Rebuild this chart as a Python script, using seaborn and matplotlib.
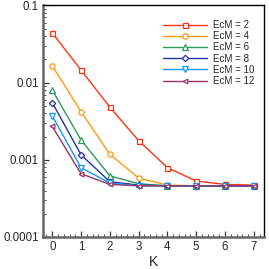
import numpy as np
import pandas as pd
import matplotlib
matplotlib.use("Agg")
import matplotlib.pyplot as plt
import seaborn as sns
from matplotlib.ticker import LogLocator, FixedLocator, MultipleLocator

k = [0, 1, 2, 3, 4, 5, 6, 7]
ecm_labels = ["EcM = 2", "EcM = 4", "EcM = 6", "EcM = 8", "EcM = 10", "EcM = 12"]
ecm2 = [0.044, 0.0145, 0.0048, 0.00177, 0.00079, 0.00053, 0.00048, 0.00047]
ecm4 = [0.0165, 0.0042, 0.00118, 0.00058, 0.00047, 0.00046, 0.00046, 0.00046]
ecm6 = [0.0080, 0.0018, 0.00062, 0.00049, 0.00046, 0.00046, 0.00046, 0.00046]
ecm8 = [0.0055, 0.00116, 0.00052, 0.00047, 0.00046, 0.00046, 0.00046, 0.00046]
ecm10 = [0.0037, 0.00079, 0.00050, 0.00046, 0.00046, 0.00046, 0.00046, 0.00046]
ecm12 = [0.0027, 0.00066, 0.00048, 0.00046, 0.00046, 0.00046, 0.00046, 0.00046]
ytick_labels = ["0.0001", "0.001", "0.01", "0.1"]

series = [ecm2, ecm4, ecm6, ecm8, ecm10, ecm12]
colors = ["#ff3311", "#ff9911", "#2e9a5e", "#2233a0", "#1199ff", "#993366"]
markers = ["s", "o", "^", "D", "v", "<"]
msizes = [3.6, 3.8, 3.8, 3.2, 3.8, 3.4]

sns.set_style("ticks")
plt.rcParams["font.family"] = ["Liberation Sans", "DejaVu Sans"]

fig = plt.figure(figsize=(2.69, 2.69), dpi=100)
ax = fig.add_axes([0.160, 0.119, 0.821, 0.861])

for lab, vals, c, m, ms in zip(ecm_labels, series, colors, markers, msizes):
    df = pd.DataFrame({"K": k, "err": vals})
    sns.lineplot(data=df, x="K", y="err", ax=ax, color=c, marker=m,
                 markersize=ms, markerfacecolor="white", markeredgecolor=c,
                 markeredgewidth=0.9, linewidth=1.0, label=lab)

ax.set_yscale("log")
ax.set_ylim(1e-4, 0.1)
ax.set_xlim(-0.32, 7.35)
ax.yaxis.set_major_locator(FixedLocator([1e-4, 1e-3, 1e-2, 1e-1]))
ax.set_yticklabels(ytick_labels)
ax.yaxis.set_minor_locator(LogLocator(base=10, subs=np.arange(2, 10)))
ax.yaxis.set_minor_formatter(plt.NullFormatter())
ax.xaxis.set_major_locator(MultipleLocator(1))
ax.xaxis.set_minor_locator(MultipleLocator(0.2))
ax.tick_params(which="both", direction="in", labelsize=8.3, color="#333333", pad=3)
ax.tick_params(which="major", length=4, width=0.9)
ax.tick_params(which="minor", length=2, width=0.6)
ax.set_xlabel("K", fontsize=10, labelpad=1)
ax.set_ylabel("")

for s in ["left", "bottom"]:
    ax.spines[s].set_color("#666666")
    ax.spines[s].set_linewidth(1.8)
for s in ["top", "right"]:
    ax.spines[s].set_color("black")
    ax.spines[s].set_linewidth(1.0)

ax.legend(loc="upper right", frameon=False, fontsize=7, handlelength=4.5,
          handletextpad=0.6, labelspacing=0.12, borderaxespad=0.4,
          bbox_to_anchor=(0.99, 0.97))

plt.savefig("out.png", dpi=100)
